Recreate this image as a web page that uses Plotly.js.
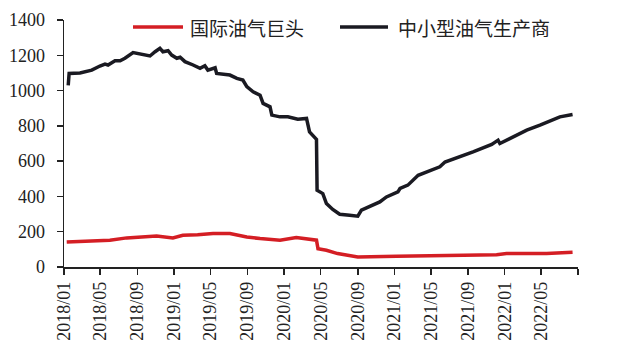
<!DOCTYPE html>
<html>
<head>
<meta charset="utf-8">
<script src="https://cdn.plot.ly/plotly-3.0.1.min.js"></script>
<style>
html,body{margin:0;padding:0;background:#fff;}
#chart{width:640px;height:363px;}
</style>
</head>
<body>
<div id="chart"></div>
<script>
// 国际油气巨头
const majorsDates = ['2018-01-10','2018-03-15','2018-06-02','2018-07-28','2018-09-20','2018-11-04','2018-12-28','2019-01-30','2019-03-20','2019-05-10','2019-07-05','2019-08-30','2019-10-13','2019-12-18','2020-02-10','2020-03-25','2020-04-17','2020-04-22','2020-05-20','2020-06-26','2020-09-01','2021-01-08','2021-06-23','2021-12-05','2022-01-07','2022-05-20','2022-08-14'];
const majorsValues = [142,145,152,165,170,176,165,180,183,190,190,170,161,152,167,158,152,104,95,76,57,61,65,70,76,76,83];

// 中小型油气生产商
const smallDates = ['2018-01-15','2018-01-18','2018-02-23','2018-04-03','2018-04-30','2018-05-17','2018-05-27','2018-06-19','2018-07-06','2018-07-22','2018-08-18','2018-09-16','2018-10-13','2018-10-30','2018-11-15','2018-11-25','2018-12-12','2018-12-24','2019-01-10','2019-01-21','2019-02-06','2019-03-05','2019-03-28','2019-04-13','2019-04-23','2019-05-17','2019-05-22','2019-07-05','2019-07-28','2019-08-17','2019-08-30','2019-09-20','2019-10-13','2019-10-23','2019-11-15','2019-11-21','2019-12-18','2020-01-13','2020-02-15','2020-03-15','2020-03-25','2020-04-17','2020-04-19','2020-05-08','2020-05-20','2020-06-10','2020-07-03','2020-08-05','2020-09-01','2020-09-13','2020-10-10','2020-11-13','2020-12-05','2021-01-12','2021-01-19','2021-02-14','2021-03-20','2021-04-17','2021-05-21','2021-05-31','2021-06-17','2021-07-20','2021-09-18','2021-11-19','2021-12-10','2021-12-16','2022-02-10','2022-03-15','2022-04-28','2022-06-10','2022-07-03','2022-08-14'];
const smallValues = [1030,1097,1100,1116,1139,1150,1145,1169,1169,1183,1215,1207,1196,1220,1239,1220,1226,1201,1183,1189,1164,1145,1126,1141,1116,1129,1097,1088,1069,1060,1022,993,974,927,908,861,851,851,838,842,766,723,435,416,360,326,299,293,288,322,341,369,397,426,445,464,520,539,558,568,595,615,653,695,719,700,747,776,804,832,851,864];

const seriesNames = ['国际油气巨头','中小型油气生产商'];
const seriesColors = ['#d41e24','#1a1a22'];

const tickVals = ['2018-01-01','2018-05-01','2018-09-01','2019-01-01','2019-05-01','2019-09-01','2020-01-01','2020-05-01','2020-09-01','2021-01-01','2021-05-01','2021-09-01','2022-01-01','2022-05-01','2022-09-01'];
const tickText = ['2018/01','2018/05','2018/09','2019/01','2019/05','2019/09','2020/01','2020/05','2020/09','2021/01','2021/05','2021/09','2022/01','2022/05',''];
const yTicks = [0,200,400,600,800,1000,1200,1400];

const traces = [
  {x: majorsDates, y: majorsValues, name: seriesNames[0], type: 'scatter', mode: 'lines',
   line: {color: seriesColors[0], width: 3.5}},
  {x: smallDates, y: smallValues, name: seriesNames[1], type: 'scatter', mode: 'lines',
   line: {color: seriesColors[1], width: 3.5}}
];

// custom legend (line samples + labels) in paper coordinates
const W = 514, H = 246.7, L = 64, T = 20;
const px = v => (v - L) / W;
const py = v => (T + H - v) / H;
const legendItems = [
  {x0: 133, x1: 183, tx: 188},
  {x0: 340, x1: 388, tx: 396}
];
const shapes = legendItems.map((it, i) => ({
  type: 'line', xref: 'paper', yref: 'paper',
  x0: px(it.x0), x1: px(it.x1), y0: py(27), y1: py(27),
  line: {color: seriesColors[i], width: 3.5}
}));
const annotations = legendItems.map((it, i) => ({
  xref: 'paper', yref: 'paper', x: px(it.tx), y: py(27),
  xanchor: 'left', yanchor: 'middle', showarrow: false,
  text: seriesNames[i],
  font: {family: 'Noto Sans CJK SC', size: 19, color: '#222'}
}));

const layout = {
  width: 640, height: 363,
  margin: {l: 64, r: 62, t: 20, b: 96},
  paper_bgcolor: '#ffffff', plot_bgcolor: '#ffffff',
  showlegend: false,
  shapes: shapes,
  annotations: annotations,
  xaxis: {type: 'date', range: ['2018-01-01','2022-09-01'],
          tickvals: tickVals, ticktext: tickText, tickangle: -90,
          showgrid: false, zeroline: false, showline: true, linecolor: '#222', linewidth: 1.5,
          ticks: 'outside', ticklen: 6, tickcolor: '#222', tickwidth: 1.5,
          tickfont: {family: 'Liberation Serif', size: 18, color: '#222'}},
  yaxis: {range: [0, 1400], tickvals: yTicks,
          showgrid: false, zeroline: false, showline: true, linecolor: '#222', linewidth: 1.5,
          ticks: 'outside', ticklen: 6, tickcolor: '#222', tickwidth: 1.5,
          ticklabelstandoff: 8,
          tickfont: {family: 'Liberation Serif', size: 18, color: '#222'}}
};

Plotly.newPlot('chart', traces, layout, {displayModeBar: false, staticPlot: true});
</script>
</body>
</html>
